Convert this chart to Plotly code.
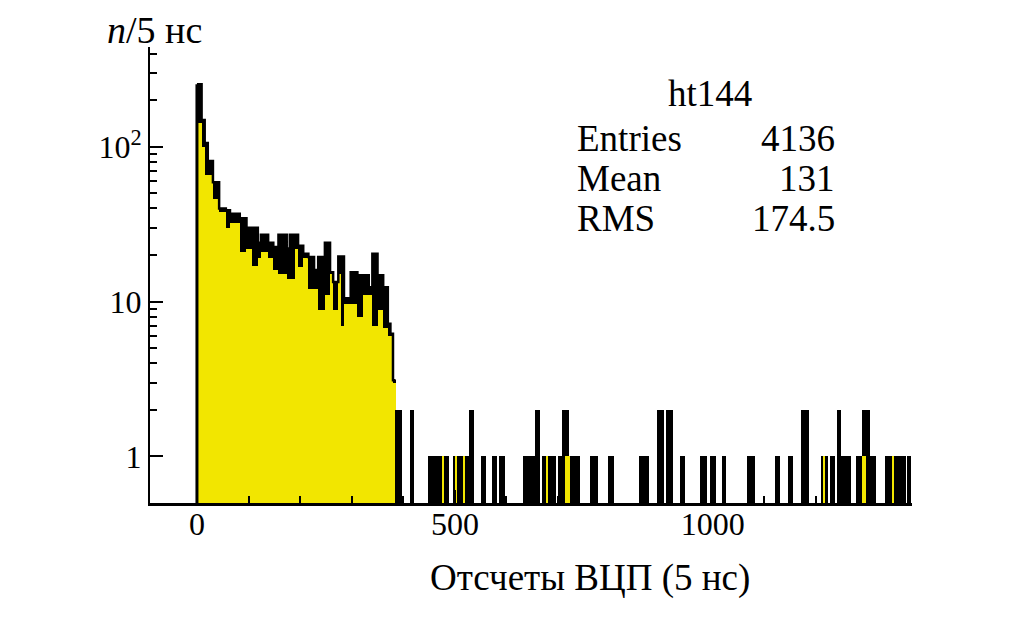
import numpy as np
import plotly.graph_objects as go

# main part of the spectrum: bin edges (ADC counts), outline top and fill top
main_edges = [0, 9, 15, 21, 31, 43, 56, 64, 83, 96, 106, 118, 124, 138, 148, 158, 174, 180, 190, 196,
              206, 216, 227, 235, 248, 258, 264, 274, 280, 285, 298, 311, 322, 333, 340, 350, 361, 370,
              375, 380, 385]
main_upper = [254, 149, 106, 81, 59, 40, 39, 37, 34.5, 30, 30, 24, 27, 24, 22.5, 27, 22, 27, 27, 23,
              20.4, 19.4, 16, 19.4, 24, 15.5, 13.4, 19.6, 19.6, 10.5, 15.5, 14.8, 14.8, 12.4, 20.4,
              14.8, 12.4, 7.2, 6.2, 3.1]
main_lower = [142, 100, 66, 66, 46, 38, 30, 32, 21, 22, 17, 19, 21, 19, 16, 15, 14, 14, 22, 16.7,
              19, 12, 12, 8.8, 11, 15, 8.8, 15, 7, 9.7, 9.7, 7.9, 11, 11, 7, 8.8, 6.8, 6, 6, 3]

# sparse tail: groups of single counts
tail_start = [384, 413, 448, 497, 527, 550, 571, 586, 632, 655, 668, 700, 707, 721, 762, 797, 857,
              892, 910, 936, 975, 994, 1017, 1067, 1120, 1145, 1171, 1209, 1227, 1240, 1249, 1277,
              1290, 1304, 1333, 1357, 1377]
tail_end = [397, 421, 489, 528, 537, 561, 581, 597, 655, 665, 696, 707, 721, 742, 778, 808, 877,
            905, 923, 946, 989, 1006, 1025, 1081, 1130, 1155, 1187, 1223, 1236, 1249, 1267, 1290,
            1305, 1317, 1357, 1374, 1384]
tail_n = [2, 2, 1, 1, 2, 1, 1, 1, 1, 2, 1, 1, 2, 1, 1, 1, 1, 2, 2, 1, 1, 1, 1, 1, 1, 1, 2, 1, 1, 2,
          1, 1, 2, 1, 1, 1, 1]
# visible fill inside tail groups
fill_start = [475, 501, 515, 676, 714, 1213, 1290, 1348]
fill_end = [479, 505, 519, 680, 724, 1218, 1296, 1352]

stats = [("Entries", "4136"), ("Mean", "131"), ("RMS", "174.5")]

YELLOW = "#f2e600"
FONT = "Liberation Serif"
y_range = [np.log10(0.5), 2.645]


def centers_widths(lo, hi):
    lo = np.array(lo, dtype=float)
    hi = np.array(hi, dtype=float)
    return (lo + hi) / 2, hi - lo


fig = go.Figure()

mx, mw = centers_widths(main_edges[:-1], main_edges[1:])
fig.add_trace(go.Bar(x=mx, y=main_upper, width=mw, marker=dict(color="black", line_width=0)))
fig.add_trace(go.Bar(x=mx, y=main_lower, width=mw, marker=dict(color=YELLOW, line_width=0)))

tx, tw = centers_widths(tail_start, tail_end)
fig.add_trace(go.Bar(x=tx, y=tail_n, width=tw, marker=dict(color="black", line_width=0)))
fx, fw = centers_widths(fill_start, fill_end)
fig.add_trace(go.Bar(x=fx, y=[1] * len(fx), width=fw, marker=dict(color=YELLOW, line_width=0)))

# outline of the main part
fig.add_trace(go.Scatter(x=main_edges, y=main_upper + [main_upper[-1]], mode="lines",
                         line=dict(color="black", width=2.5, shape="hv")))
fig.add_trace(go.Scatter(x=[main_edges[0]] * 2, y=[10 ** y_range[0], main_upper[0]], mode="lines",
                         line=dict(color="black", width=3)))

# page body has an 8px margin, so the figure is a bit smaller than the window
fig.update_layout(
    width=1002, height=621,
    margin=dict(l=142, r=98, t=39, b=126),
    barmode="overlay", bargap=0,
    showlegend=False,
    plot_bgcolor="white", paper_bgcolor="white",
    font=dict(family=FONT, size=32, color="black"),
)
fig.update_traces(opacity=1, selector=dict(type="bar"))

fig.update_xaxes(
    range=[-91, 1386], showgrid=False, zeroline=False,
    showline=True, linecolor="black", linewidth=3,
    tickvals=[0, 500, 1000], ticks="inside", ticklen=13, tickwidth=2, tickcolor="black",
    minor=dict(ticks="inside", ticklen=7, tickwidth=2, tickcolor="black", dtick=100, tick0=0),
    tickfont=dict(family=FONT, size=32), ticklabelstandoff=-9,
)
fig.update_yaxes(
    type="log", range=y_range, showgrid=False, zeroline=False,
    showline=True, linecolor="black", linewidth=2,
    tickvals=[1, 10, 100], ticktext=["1", "10", "10<sup>2</sup>"],
    ticks="inside", ticklen=13, tickwidth=2, tickcolor="black",
    minor=dict(ticks="inside", ticklen=7, tickwidth=2, tickcolor="black",
               tickvals=[2, 3, 4, 5, 6, 7, 8, 9, 20, 30, 40, 50, 60, 70, 80, 90, 200, 300, 400]),
    tickfont=dict(family=FONT, size=32),
)

fig.add_annotation(text="<i>n</i>/5 нс", xref="paper", yref="paper", x=-0.059, y=1.037,
                   xanchor="left", yanchor="middle", showarrow=False,
                   font=dict(family=FONT, size=38))
fig.add_annotation(text="Отсчеты ВЦП (5 нс)", xref="paper", yref="paper", x=0.577, y=-0.165,
                   xanchor="center", yanchor="middle", showarrow=False,
                   font=dict(family=FONT, size=37))

fig.add_annotation(text="ht144", xref="paper", yref="paper", x=0.735, y=0.897,
                   xanchor="center", yanchor="middle", showarrow=False,
                   font=dict(family=FONT, size=37))
for i, (name, val) in enumerate(stats):
    yy = 0.80 - i * 0.0877
    fig.add_annotation(text=name, xref="paper", yref="paper", x=0.558, y=yy,
                       xanchor="left", yanchor="middle", showarrow=False,
                       font=dict(family=FONT, size=37))
    fig.add_annotation(text=val, xref="paper", yref="paper", x=0.902, y=yy,
                       xanchor="right", yanchor="middle", showarrow=False,
                       font=dict(family=FONT, size=37))

fig.write_html("out.html")
